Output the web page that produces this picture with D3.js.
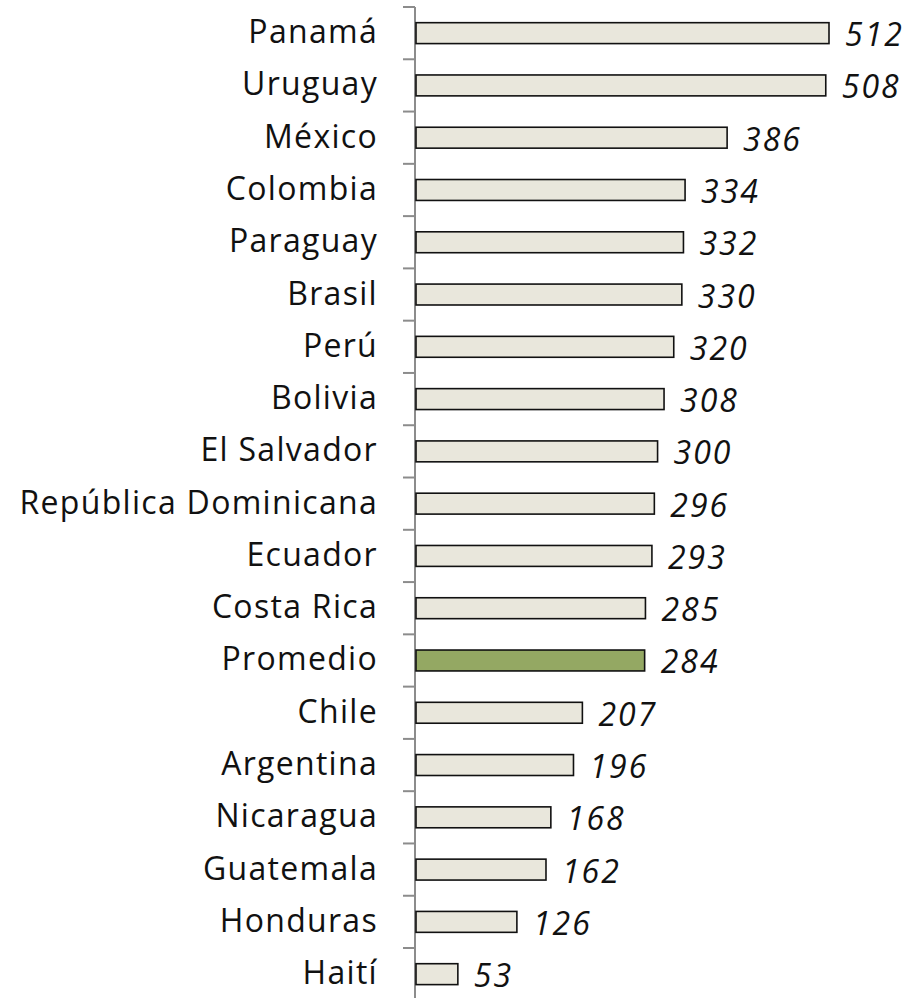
<!DOCTYPE html>
<html><head><meta charset="utf-8">
<script src="https://cdn.jsdelivr.net/npm/d3@7"></script>
<style>html,body{margin:0;padding:0;background:#fff;overflow:hidden}</style>
</head><body>
<svg id="c" width="918" height="998"></svg>
<script>
const countries = ["Panamá","Uruguay","México","Colombia","Paraguay","Brasil","Perú","Bolivia","El Salvador","República Dominicana","Ecuador","Costa Rica","Promedio","Chile","Argentina","Nicaragua","Guatemala","Honduras","Haití"];
const values = [512,508,386,334,332,330,320,308,300,296,293,285,284,207,196,168,162,126,53];
const highlight = "Promedio";

const svg = d3.select("#c");
const x0 = 415;
const x = d3.scaleLinear().domain([0,512]).range([x0,829]);
const yTop = 7, yBot = 1000.3;
const y = d3.scaleBand().domain(countries).range([yTop,yBot]).paddingInner(0.6).paddingOuter(0.3);
const font = "'Open Sans', sans-serif";

// axis (line + tick marks at band boundaries)
const ticks = d3.range(countries.length+1).map(i => yTop + i*(yBot-yTop)/countries.length);
svg.append("line").attr("x1",x0).attr("x2",x0).attr("y1",yTop).attr("y2",yBot)
  .attr("stroke","#8c8c8c").attr("stroke-width",2);
svg.selectAll("line.tk").data(ticks).enter().append("line").attr("class","tk")
  .attr("x1",403).attr("x2",x0).attr("y1",d=>d).attr("y2",d=>d)
  .attr("stroke","#8c8c8c").attr("stroke-width",2);

// bars
svg.selectAll("rect.bar").data(countries).enter().append("rect").attr("class","bar")
  .attr("x",x0+1).attr("y",d=>y(d)).attr("height",y.bandwidth())
  .attr("width",(d,i)=>x(values[i])-x0-1)
  .attr("fill",d=>d===highlight?"#94a863":"#e9e7dc")
  .attr("stroke","#111").attr("stroke-width",1.6);

// category labels
svg.selectAll("text.cat").data(countries).enter().append("text").attr("class","cat")
  .attr("x",378).attr("y",d=>y(d)+y.bandwidth()/2+10)
  .attr("text-anchor","end").attr("font-family",font).attr("font-size",32)
  .attr("letter-spacing",1.3)
  .attr("fill","#111").text(d=>d);

// value labels
svg.selectAll("text.val").data(countries).enter().append("text").attr("class","val")
  .attr("x",(d,i)=>x(values[i])+16).attr("y",d=>y(d)+y.bandwidth()/2+13)
  .attr("font-family",font).attr("font-size",32).attr("font-style","italic")
  .attr("letter-spacing",2)
  .attr("fill","#111").text((d,i)=>values[i]);
</script>
</body></html>
